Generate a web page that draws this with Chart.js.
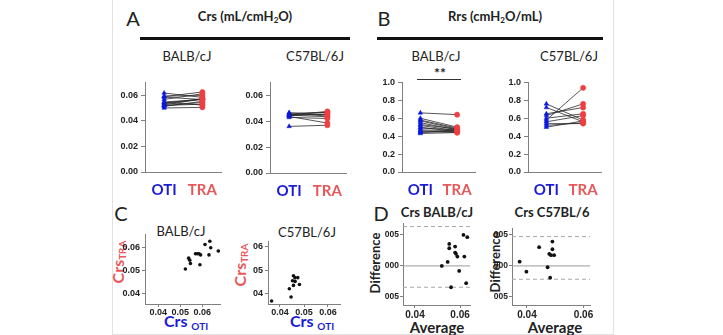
<!DOCTYPE html>
<html><head><meta charset="utf-8">
<script src="https://cdn.jsdelivr.net/npm/chart.js@4"></script>
<style>
body{margin:0;width:723px;height:335px;position:relative;background:#fff;overflow:hidden;font-family:Lato,"Liberation Sans",sans-serif;}
.t{position:absolute;white-space:nowrap;color:#222;line-height:1;transform:translate(-50%,-50%);}
.r{transform:translate(-50%,-50%) rotate(-90deg);}
.rule{position:absolute;background:#111;}
canvas{position:absolute;}
sub{font-size:0.62em;vertical-align:-0.25em;}
</style></head><body>
<div style="position:absolute;left:112px;top:0;width:500px;height:334px;border:1px solid #e2e2e2;border-top:none;"></div>

<div class="t" style="left:133px;top:18px;font-size:20px;">A</div>
<div class="t" style="left:245px;top:17px;font-size:13px;font-weight:bold;">Crs (mL/cmH<sub>2</sub>O)</div>
<div class="rule" style="left:140px;top:37px;width:210px;height:3px;"></div>
<div class="t" style="left:384px;top:18px;font-size:20px;">B</div>
<div class="t" style="left:495px;top:17px;font-size:13px;font-weight:bold;">Rrs (cmH<sub>2</sub>O/mL)</div>
<div class="rule" style="left:377px;top:37px;width:226px;height:3px;"></div>

<div class="t" style="left:187px;top:56px;font-size:13px;">BALB/cJ</div>
<div class="t" style="left:315px;top:56px;font-size:13px;">C57BL/6J</div>
<div class="t" style="left:436px;top:56px;font-size:13px;">BALB/cJ</div>
<div class="t" style="left:569px;top:56px;font-size:13px;">C57BL/6J</div>
<div class="t" style="left:440px;top:73px;font-size:14px;font-weight:bold;">**</div>
<div class="rule" style="left:417px;top:79px;width:44px;height:1px;background:#333;"></div>

<div class="t" style="left:121px;top:213px;font-size:20px;">C</div>
<div class="t" style="left:181px;top:231px;font-size:13px;">BALB/cJ</div>
<div class="t" style="left:307px;top:232px;font-size:13px;">C57BL/6J</div>
<div class="t r" style="left:119px;top:262px;font-size:16px;font-weight:bold;color:#e8585a;">Crs<sub>TRA</sub></div>
<div class="t r" style="left:241px;top:265px;font-size:16px;font-weight:bold;color:#e8585a;">Crs<sub>TRA</sub></div>
<div class="t" style="left:186px;top:322px;font-size:16px;font-weight:bold;color:#1c1cd6;">Crs <sub style="font-size:10px">OTI</sub></div>
<div class="t" style="left:312px;top:322px;font-size:16px;font-weight:bold;color:#1c1cd6;">Crs <sub style="font-size:10px">OTI</sub></div>

<div class="t" style="left:381px;top:213px;font-size:20px;">D</div>
<div class="t" style="left:437px;top:212px;font-size:13px;font-weight:bold;">Crs BALB/cJ</div>
<div class="t" style="left:552px;top:212px;font-size:13px;font-weight:bold;">Crs C57BL/6</div>
<div class="t r" style="left:375px;top:263px;font-size:13px;font-weight:bold;">Difference</div>
<div class="t r" style="left:495px;top:262px;font-size:13px;font-weight:bold;">Difference</div>
<div class="t" style="left:437px;top:327px;font-size:15px;font-weight:bold;">Average</div>
<div class="t" style="left:555px;top:327px;font-size:15px;font-weight:bold;">Average</div>

<script>
// ---------- data ----------
const groups = ['OTI', 'TRA'];

const crsBalbOTI = [0.0567,0.0589,0.0593,0.0585,0.0617,0.0524,0.0532,0.0540,0.0547,0.0513,0.0518,0.0521,0.0544,0.0500];
const crsBalbTRA = [0.0611,0.0625,0.0597,0.0566,0.0583,0.0571,0.0571,0.0571,0.0566,0.0552,0.0543,0.0529,0.0523,0.0505];
const crsB6OTI = [0.0360,0.0430,0.0437,0.0447,0.0452,0.0462,0.0443,0.0453,0.0446,0.0466];
const crsB6TRA = [0.0369,0.0421,0.0386,0.0476,0.0468,0.0468,0.0455,0.0452,0.0435,0.0439];

const rrsBalbOTI = [0.66,0.60,0.58,0.57,0.55,0.53,0.52,0.50,0.49,0.47,0.46,0.45,0.44,0.43];
const rrsBalbTRA = [0.64,0.50,0.49,0.48,0.47,0.48,0.46,0.45,0.47,0.46,0.44,0.45,0.46,0.44];
const rrsB6OTI = [0.76,0.72,0.65,0.63,0.60,0.58,0.56,0.54,0.52,0.50];
const rrsB6TRA = [0.58,0.56,0.72,0.76,0.65,0.94,0.63,0.54,0.55,0.57];

const scatBalbOTI = [0.0612,0.0634,0.0638,0.0630,0.0672,0.0569,0.0577,0.0585,0.0592,0.0538,0.0543,0.0546,0.0589,0.0523];
const scatBalbTRA = [0.0611,0.0625,0.0597,0.0566,0.0583,0.0571,0.0571,0.0571,0.0566,0.0552,0.0543,0.0529,0.0523,0.0505];
const scatB6OTI = [0.0365,0.0439,0.0446,0.0456,0.0462,0.0474,0.0452,0.0463,0.0456,0.0481];
const scatB6TRA = [0.0369,0.0421,0.0386,0.0476,0.0468,0.0468,0.0455,0.0452,0.0435,0.0439];

const baBalbAvg  = [0.0615,0.0632,0.0552,0.0552,0.0578,0.0578,0.0582,0.0588,0.0619,0.0545,0.0519,0.0596,0.0627,0.0560];
const baBalbDiff = [0.0050,0.00463,0.00355,0.00285,0.00311,0.00215,0.00194,0.0015,0.0015,0.00065,0.0,-0.00081,-0.00279,-0.00344];
const baB6Avg  = [0.0374,0.0398,0.0443,0.0473,0.0479,0.0485,0.0496,0.0482,0.0490,0.0490];
const baB6Diff = [0.00069,-0.00092,0.00302,-0.00021,0.00194,0.00173,0.00173,-0.00189,0.00269,0.00392];
const baBalbLimits = [0.00634, -0.00344];
const baB6Limits = [0.00473, -0.00215];
const baBias = 0;

const crsTicks = [0, 0.02, 0.04, 0.06];
const crsTickLabels = ['0.00', '0.02', '0.04', '0.06'];
const rrsTicks = [0, 0.2, 0.4, 0.6, 0.8, 1.0];
const rrsTickLabels = ['0.0', '0.2', '0.4', '0.6', '0.8', '1.0'];
const scatTicks = [0.04, 0.05, 0.06];
const scatBalbYLabels = ['0.04', '0.05', '0.06'];
const scatB6YLabels = ['04', '05', '06'];
const scatXLabels = ['0.04', '0.05', '0.06'];
const baXTicks = [0.04, 0.06];
const baXLabels = ['0.04', '0.06'];
const baYTicks = [-0.005, 0, 0.005];
const baYLabels = ['005', '000', '005'];

// ---------- styling ----------
const BLUE = '#0a18e0', RED = '#ee3f42';
const BLUE_T = '#1c1cd6', RED_T = '#e8585a';
const AX = '#808080';
const tickFont = {family: '"Liberation Sans", Arial, sans-serif', size: 9, weight: 'bold'};

function canvasAt(L, T, R, B, yW, xH, padT, padR) {
  const c = document.createElement('canvas');
  const w = R - L + yW + padR, h = B - T + padT + xH;
  c.width = w; c.height = h;
  c.style.left = (L - yW) + 'px'; c.style.top = (T - padT) + 'px';
  c.style.width = w + 'px'; c.style.height = h + 'px';
  document.body.appendChild(c);
  return c;
}
function yAxis(min, max, ticks, labels, yW, font, tl, pad) {
  return {type: 'linear', min, max,
    afterFit: s => { s.width = yW; },
    afterBuildTicks: s => { s.ticks = ticks.map(v => ({value: v})); },
    ticks: {callback: (v, i) => labels[i], font: font || tickFont, color: '#222', padding: pad == null ? 3 : pad},
    grid: {display: true, drawOnChartArea: false, drawTicks: true, tickLength: tl == null ? 4 : tl, color: AX},
    border: {display: true, color: AX, width: 1}};
}
function xLinear(min, max, ticks, labels, xH, font, tl, pad) {
  return {type: 'linear', min, max,
    afterFit: s => { s.height = xH; },
    afterBuildTicks: s => { s.ticks = ticks.map(v => ({value: v})); },
    ticks: {callback: (v, i) => labels[i], font: font || tickFont, color: '#222', padding: pad == null ? 0 : pad, maxRotation: 0},
    grid: {display: true, drawOnChartArea: false, drawTicks: true, tickLength: tl == null ? 3 : tl, color: AX},
    border: {display: true, color: AX, width: 1}};
}
const base = (padT, padR) => ({responsive: false, animation: false, devicePixelRatio: 1,
  layout: {padding: {top: padT, right: padR, left: 0, bottom: 0}},
  plugins: {legend: {display: false}, tooltip: {enabled: false}}});

function pairChart(L, T, R, B, oti, tra, ymax, ticks, labels) {
  const yW = 32, xH = 26, padT = 8, padR = 4;
  const c = canvasAt(L, T, R, B, yW, xH, padT, padR);
  const datasets = oti.map((v, i) => ({
    data: [v, tra[i]], borderColor: '#2a2a2a', borderWidth: 0.8,
    pointStyle: ['triangle', 'circle'], pointRadius: 2.6,
    pointBackgroundColor: [BLUE, RED], pointBorderColor: [BLUE, RED], pointBorderWidth: 0.5
  }));
  const opts = base(padT, padR);
  opts.scales = {
    x: {type: 'category', labels: groups, offset: true,
      afterFit: s => { s.height = xH; },
      ticks: {font: {family: 'Lato, "Liberation Sans", sans-serif', size: 15, weight: 'bold'},
        color: ctx => ctx.index === 0 ? BLUE_T : RED_T, padding: 5, maxRotation: 0},
      grid: {display: false, tickLength: 4}, border: {display: true, color: AX, width: 1}},
    y: yAxis(0, ymax, ticks, labels, yW, null, 4, 3)
  };
  new Chart(c, {type: 'line', data: {labels: groups, datasets}, options: opts});
}

function scatChart(L, T, R, B, xs, ys, xr, yr, yLabels) {
  const yW = 30, xH = 16, padT = 6, padR = 10;
  const c = canvasAt(L, T, R, B, yW, xH, padT, padR);
  const opts = base(padT, padR);
  opts.scales = {
    x: xLinear(xr[0], xr[1], scatTicks, scatXLabels, xH, null, 3, 0),
    y: yAxis(yr[0], yr[1], scatTicks, yLabels, yW, null, 3, 2)
  };
  new Chart(c, {type: 'scatter', data: {datasets: [{
    data: xs.map((x, i) => ({x, y: ys[i]})), pointRadius: 1.8,
    pointBackgroundColor: '#111', pointBorderWidth: 0}]}, options: opts});
}

function baChart(L, T, R, B, avg, diff, limits, xr, yr) {
  const yW = 22, xH = 18, padT = 6, padR = 10;
  const c = canvasAt(L, T, R, B, yW, xH, padT, padR);
  const opts = base(padT, padR);
  const fx = {family: '"Liberation Sans", Arial, sans-serif', size: 10, weight: 'bold'};
  const fy = {family: '"Liberation Sans", Arial, sans-serif', size: 8.5, weight: 'bold'};
  opts.scales = {
    x: xLinear(xr[0], xr[1], baXTicks, baXLabels, xH, fx, 3, 1),
    y: yAxis(yr[0], yr[1], baYTicks, baYLabels, yW, fy, 3, 1)
  };
  const hline = (y, dash) => ({type: 'line', data: [{x: xr[0], y}, {x: xr[1], y}],
    borderColor: dash ? '#a8a8a8' : '#9a9a9a', borderWidth: 1, borderDash: dash ? [4, 3] : [],
    pointRadius: 0});
  new Chart(c, {type: 'scatter', data: {datasets: [
    {data: avg.map((x, i) => ({x, y: diff[i]})), pointRadius: 1.9,
      pointBackgroundColor: '#111', pointBorderWidth: 0},
    hline(limits[0], true), hline(limits[1], true), hline(baBias, false)
  ]}, options: opts});
}

pairChart(145, 82, 222, 172, crsBalbOTI, crsBalbTRA, 0.07, crsTicks, crsTickLabels);
pairChart(270, 82, 347, 173, crsB6OTI, crsB6TRA, 0.07, crsTicks, crsTickLabels);
pairChart(402, 82, 476, 172, rrsBalbOTI, rrsBalbTRA, 1.0, rrsTicks, rrsTickLabels);
pairChart(528, 82, 602, 172, rrsB6OTI, rrsB6TRA, 1.0, rrsTicks, rrsTickLabels);

scatChart(145, 233, 220, 304, scatBalbOTI, scatBalbTRA, [0.034, 0.068], [0.0353, 0.0655], scatBalbYLabels);
scatChart(268, 240, 340, 304, scatB6OTI, scatB6TRA, [0.035, 0.065], [0.0356, 0.0622], scatB6YLabels);

baChart(403, 223, 470, 305, baBalbAvg, baBalbDiff, baBalbLimits, [0.0347, 0.0644], [-0.0063, 0.0069]);
baChart(512, 228, 590, 305, baB6Avg, baB6Diff, baB6Limits, [0.0347, 0.0623], [-0.0063, 0.0061]);
</script>
</body></html>
